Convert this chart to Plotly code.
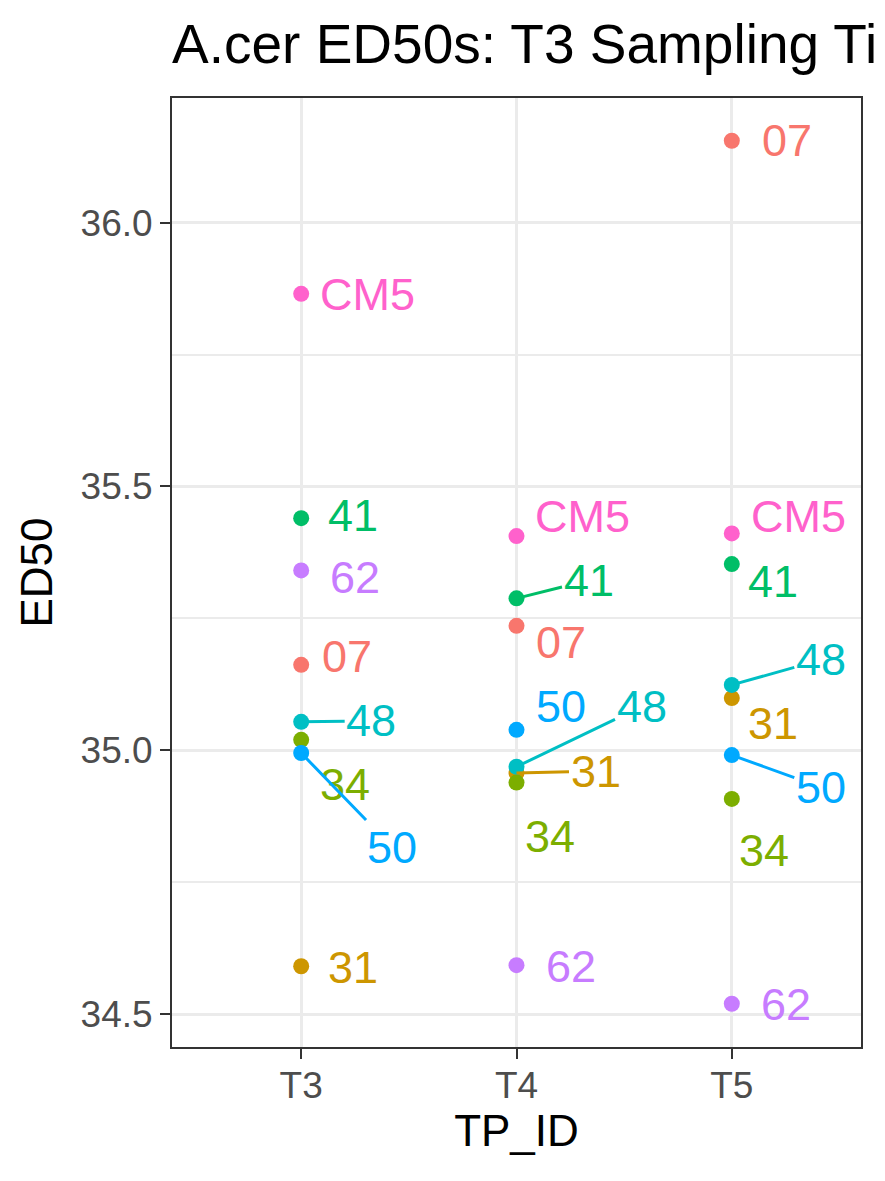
import plotly.graph_objects as go

# data
tp_ids = ["T3", "T4", "T5"]
geno_ids = ["07", "31", "34", "41", "48", "50", "62", "CM5"]

ed50_t3 = [35.162, 34.591, 35.020, 35.440, 35.054, 34.995, 35.341, 35.865]
ed50_t4 = [35.236, 34.957, 34.939, 35.288, 34.969, 35.039, 34.593, 35.406]
ed50_t5 = [36.155, 35.099, 34.908, 35.353, 35.124, 34.991, 34.520, 35.411]

y_ticks = [34.5, 35.0, 35.5, 36.0]

# ggplot default hue palette
colors = ["#F8766D", "#CD9600", "#7CAE00", "#00BE67",
          "#00BFC4", "#00A9FF", "#C77CFF", "#FF61CC"]

# repel-style label placement: pixel offset of label centre from point, segment drawn?
label_pos = {
    "T3": [(46, -8, False), (52, 1, False), (44, 45, False), (52, -3, False),
           (70, -1, True), (91, 94, True), (54, 7, False), (66, 1, False)],
    "T4": [(44, 17, False), (79, -2, True), (33, 54, False), (72, -18, True),
           (125, -60, True), (44, -23, False), (54, 1, False), (66, -20, False)],
    "T5": [(55, 0, False), (41, 25, False), (32, 52, False), (41, 17, False),
           (89, -25, True), (89, 32, True), (54, 1, False), (67, -17, False)],
}

font = "Liberation Sans, Arial, sans-serif"
values = {"T3": ed50_t3, "T4": ed50_t4, "T5": ed50_t5}

fig = go.Figure()

# one trace per genotype, in factor order (later ones drawn on top)
for i, gid in enumerate(geno_ids):
    fig.add_trace(go.Scatter(
        x=[tp_ids.index(tp) for tp in tp_ids],
        y=[values[tp][i] for tp in tp_ids],
        mode="markers",
        marker=dict(color=colors[i], size=16),
        name=gid,
        showlegend=False,
    ))

# text labels
for j, tp in enumerate(tp_ids):
    for i, gid in enumerate(geno_ids):
        dx, dy, seg = label_pos[tp][i]
        fig.add_annotation(
            x=j, y=values[tp][i], xref="x", yref="y",
            text=gid,
            showarrow=True, arrowhead=0, arrowwidth=3, standoff=0,
            arrowcolor=colors[i] if seg else "rgba(0,0,0,0)",
            ax=dx, ay=dy,
            font=dict(family=font, size=45, color=colors[i]),
        )

# page body adds an 8px margin, so the figure is a bit smaller than the window
W, H = 877, 1173
fig.update_layout(
    width=W, height=H,
    margin=dict(l=164, r=24, t=90, b=134, autoexpand=False),
    paper_bgcolor="white", plot_bgcolor="white",
    title=dict(text="A.cer ED50s: T3 Sampling Time Points",
               x=164 / W, xanchor="left", xref="container",
               y=1 - 36 / H, yanchor="middle", yref="container",
               font=dict(family=font, size=55, color="black")),
    font=dict(family=font),
)

fig.update_xaxes(
    range=[-0.6, 2.6],
    tickvals=[0, 1, 2], ticktext=tp_ids,
    showgrid=True, gridcolor="#EBEBEB", gridwidth=3,
    zeroline=False,
    showline=True, linecolor="#333333", linewidth=2, mirror=True,
    ticks="outside", ticklen=10, tickwidth=2, tickcolor="#333333",
    ticklabelstandoff=-5,
    tickfont=dict(family=font, size=37, color="#4D4D4D"),
    title=dict(text="TP_ID", standoff=8, font=dict(family=font, size=44, color="black")),
)

fig.update_yaxes(
    range=[34.438, 36.236],
    tickvals=y_ticks, ticktext=[f"{v:.1f}" for v in y_ticks],
    showgrid=True, gridcolor="#EBEBEB", gridwidth=3,
    minor=dict(tickvals=[34.75, 35.25, 35.75], showgrid=True,
               gridcolor="#EBEBEB", gridwidth=1.5, ticks=""),
    zeroline=False,
    showline=True, linecolor="#333333", linewidth=2, mirror=True,
    ticks="outside", ticklen=10, tickwidth=2, tickcolor="#333333",
    tickfont=dict(family=font, size=37, color="#4D4D4D"),
    title=dict(text="ED50", standoff=14, font=dict(family=font, size=44, color="black")),
)

fig.write_html("out.html")
